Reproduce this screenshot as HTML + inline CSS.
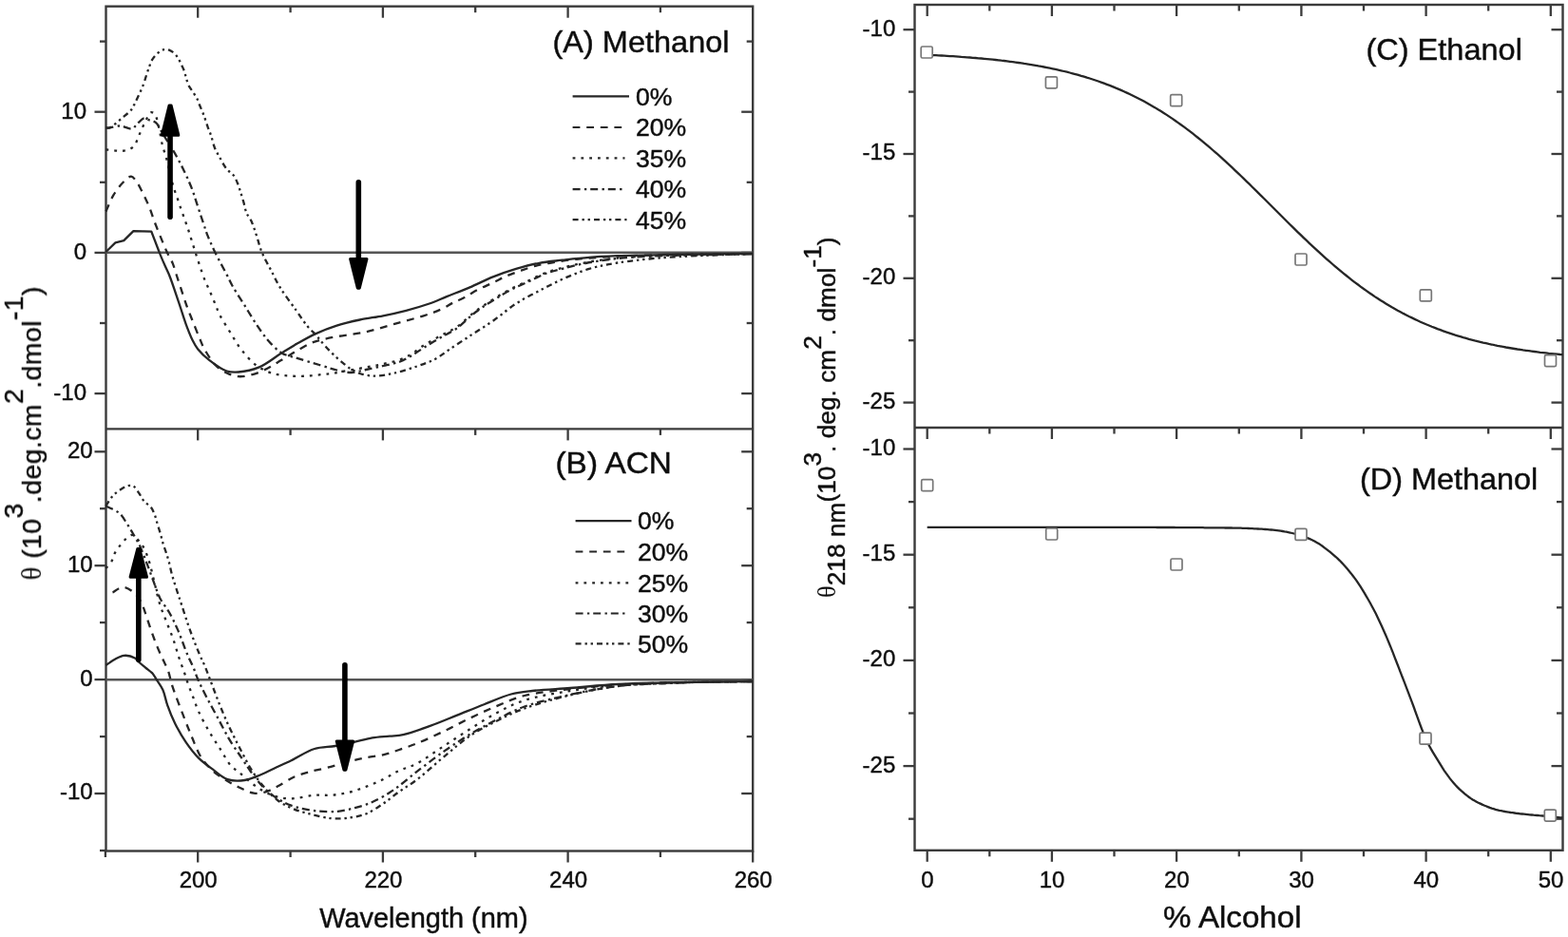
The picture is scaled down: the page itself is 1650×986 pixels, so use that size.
<!DOCTYPE html>
<html><head><meta charset="utf-8"><title>CD spectra figure</title>
<style>html,body{margin:0;padding:0;background:#fff;overflow:hidden}svg{display:block}text{fill:#111;stroke:#111;stroke-width:0.45px}</style>
</head><body>
<svg width="1650" height="986" viewBox="0 0 1650 986" font-family="'Liberation Sans', Arial, sans-serif" fill="#111"><defs><filter id="soft" x="0" y="0" width="1650" height="986" filterUnits="userSpaceOnUse"><feGaussianBlur stdDeviation="0.65"/></filter></defs><rect width="1650" height="986" fill="#fff"/><g filter="url(#soft)"><rect x="111.5" y="6.7" width="680.7" height="888.8" fill="none" stroke="#3a3a3a" stroke-width="2.4"/>
<line x1="111.5" y1="451.4" x2="792.2" y2="451.4" stroke="#3a3a3a" stroke-width="2.4" stroke-linecap="butt"/>
<rect x="962.5" y="5.0" width="682.0" height="889.8" fill="none" stroke="#3a3a3a" stroke-width="2.4"/>
<line x1="962.5" y1="450.0" x2="1644.5" y2="450.0" stroke="#3a3a3a" stroke-width="2.4" stroke-linecap="butt"/>
<line x1="110.9" y1="895.5" x2="110.9" y2="902.0" stroke="#3a3a3a" stroke-width="2.3" stroke-linecap="butt"/>
<line x1="208.2" y1="6.7" x2="208.2" y2="18.7" stroke="#3a3a3a" stroke-width="2.3" stroke-linecap="butt"/>
<line x1="208.2" y1="451.4" x2="208.2" y2="463.4" stroke="#3a3a3a" stroke-width="2.3" stroke-linecap="butt"/>
<line x1="208.2" y1="895.5" x2="208.2" y2="907.5" stroke="#3a3a3a" stroke-width="2.3" stroke-linecap="butt"/>
<line x1="305.6" y1="6.7" x2="305.6" y2="13.2" stroke="#3a3a3a" stroke-width="2.3" stroke-linecap="butt"/>
<line x1="305.6" y1="451.4" x2="305.6" y2="457.9" stroke="#3a3a3a" stroke-width="2.3" stroke-linecap="butt"/>
<line x1="305.6" y1="895.5" x2="305.6" y2="902.0" stroke="#3a3a3a" stroke-width="2.3" stroke-linecap="butt"/>
<line x1="402.9" y1="6.7" x2="402.9" y2="18.7" stroke="#3a3a3a" stroke-width="2.3" stroke-linecap="butt"/>
<line x1="402.9" y1="451.4" x2="402.9" y2="463.4" stroke="#3a3a3a" stroke-width="2.3" stroke-linecap="butt"/>
<line x1="402.9" y1="895.5" x2="402.9" y2="907.5" stroke="#3a3a3a" stroke-width="2.3" stroke-linecap="butt"/>
<line x1="500.2" y1="6.7" x2="500.2" y2="13.2" stroke="#3a3a3a" stroke-width="2.3" stroke-linecap="butt"/>
<line x1="500.2" y1="451.4" x2="500.2" y2="457.9" stroke="#3a3a3a" stroke-width="2.3" stroke-linecap="butt"/>
<line x1="500.2" y1="895.5" x2="500.2" y2="902.0" stroke="#3a3a3a" stroke-width="2.3" stroke-linecap="butt"/>
<line x1="597.6" y1="6.7" x2="597.6" y2="18.7" stroke="#3a3a3a" stroke-width="2.3" stroke-linecap="butt"/>
<line x1="597.6" y1="451.4" x2="597.6" y2="463.4" stroke="#3a3a3a" stroke-width="2.3" stroke-linecap="butt"/>
<line x1="597.6" y1="895.5" x2="597.6" y2="907.5" stroke="#3a3a3a" stroke-width="2.3" stroke-linecap="butt"/>
<line x1="694.9" y1="6.7" x2="694.9" y2="13.2" stroke="#3a3a3a" stroke-width="2.3" stroke-linecap="butt"/>
<line x1="694.9" y1="451.4" x2="694.9" y2="457.9" stroke="#3a3a3a" stroke-width="2.3" stroke-linecap="butt"/>
<line x1="694.9" y1="895.5" x2="694.9" y2="902.0" stroke="#3a3a3a" stroke-width="2.3" stroke-linecap="butt"/>
<line x1="792.2" y1="895.5" x2="792.2" y2="907.5" stroke="#3a3a3a" stroke-width="2.3" stroke-linecap="butt"/>
<line x1="105.0" y1="43.6" x2="111.5" y2="43.6" stroke="#3a3a3a" stroke-width="2.3" stroke-linecap="butt"/>
<line x1="792.2" y1="43.6" x2="785.7" y2="43.6" stroke="#3a3a3a" stroke-width="2.3" stroke-linecap="butt"/>
<line x1="99.5" y1="117.7" x2="111.5" y2="117.7" stroke="#3a3a3a" stroke-width="2.3" stroke-linecap="butt"/>
<line x1="792.2" y1="117.7" x2="780.2" y2="117.7" stroke="#3a3a3a" stroke-width="2.3" stroke-linecap="butt"/>
<line x1="105.0" y1="191.8" x2="111.5" y2="191.8" stroke="#3a3a3a" stroke-width="2.3" stroke-linecap="butt"/>
<line x1="792.2" y1="191.8" x2="785.7" y2="191.8" stroke="#3a3a3a" stroke-width="2.3" stroke-linecap="butt"/>
<line x1="99.5" y1="265.9" x2="111.5" y2="265.9" stroke="#3a3a3a" stroke-width="2.3" stroke-linecap="butt"/>
<line x1="792.2" y1="265.9" x2="780.2" y2="265.9" stroke="#3a3a3a" stroke-width="2.3" stroke-linecap="butt"/>
<line x1="105.0" y1="340.0" x2="111.5" y2="340.0" stroke="#3a3a3a" stroke-width="2.3" stroke-linecap="butt"/>
<line x1="792.2" y1="340.0" x2="785.7" y2="340.0" stroke="#3a3a3a" stroke-width="2.3" stroke-linecap="butt"/>
<line x1="99.5" y1="414.1" x2="111.5" y2="414.1" stroke="#3a3a3a" stroke-width="2.3" stroke-linecap="butt"/>
<line x1="792.2" y1="414.1" x2="780.2" y2="414.1" stroke="#3a3a3a" stroke-width="2.3" stroke-linecap="butt"/>
<line x1="99.5" y1="475.3" x2="111.5" y2="475.3" stroke="#3a3a3a" stroke-width="2.3" stroke-linecap="butt"/>
<line x1="792.2" y1="475.3" x2="780.2" y2="475.3" stroke="#3a3a3a" stroke-width="2.3" stroke-linecap="butt"/>
<line x1="105.0" y1="535.2" x2="111.5" y2="535.2" stroke="#3a3a3a" stroke-width="2.3" stroke-linecap="butt"/>
<line x1="792.2" y1="535.2" x2="785.7" y2="535.2" stroke="#3a3a3a" stroke-width="2.3" stroke-linecap="butt"/>
<line x1="99.5" y1="595.2" x2="111.5" y2="595.2" stroke="#3a3a3a" stroke-width="2.3" stroke-linecap="butt"/>
<line x1="792.2" y1="595.2" x2="780.2" y2="595.2" stroke="#3a3a3a" stroke-width="2.3" stroke-linecap="butt"/>
<line x1="105.0" y1="655.1" x2="111.5" y2="655.1" stroke="#3a3a3a" stroke-width="2.3" stroke-linecap="butt"/>
<line x1="792.2" y1="655.1" x2="785.7" y2="655.1" stroke="#3a3a3a" stroke-width="2.3" stroke-linecap="butt"/>
<line x1="99.5" y1="715.1" x2="111.5" y2="715.1" stroke="#3a3a3a" stroke-width="2.3" stroke-linecap="butt"/>
<line x1="792.2" y1="715.1" x2="780.2" y2="715.1" stroke="#3a3a3a" stroke-width="2.3" stroke-linecap="butt"/>
<line x1="105.0" y1="775.1" x2="111.5" y2="775.1" stroke="#3a3a3a" stroke-width="2.3" stroke-linecap="butt"/>
<line x1="792.2" y1="775.1" x2="785.7" y2="775.1" stroke="#3a3a3a" stroke-width="2.3" stroke-linecap="butt"/>
<line x1="99.5" y1="835.0" x2="111.5" y2="835.0" stroke="#3a3a3a" stroke-width="2.3" stroke-linecap="butt"/>
<line x1="792.2" y1="835.0" x2="780.2" y2="835.0" stroke="#3a3a3a" stroke-width="2.3" stroke-linecap="butt"/>
<line x1="105.0" y1="895.0" x2="111.5" y2="895.0" stroke="#3a3a3a" stroke-width="2.3" stroke-linecap="butt"/>
<line x1="975.7" y1="5.0" x2="975.7" y2="17.0" stroke="#3a3a3a" stroke-width="2.3" stroke-linecap="butt"/>
<line x1="975.7" y1="450.0" x2="975.7" y2="462.0" stroke="#3a3a3a" stroke-width="2.3" stroke-linecap="butt"/>
<line x1="975.7" y1="894.8" x2="975.7" y2="906.8" stroke="#3a3a3a" stroke-width="2.3" stroke-linecap="butt"/>
<line x1="1041.3" y1="5.0" x2="1041.3" y2="11.5" stroke="#3a3a3a" stroke-width="2.3" stroke-linecap="butt"/>
<line x1="1041.3" y1="450.0" x2="1041.3" y2="456.5" stroke="#3a3a3a" stroke-width="2.3" stroke-linecap="butt"/>
<line x1="1041.3" y1="894.8" x2="1041.3" y2="901.3" stroke="#3a3a3a" stroke-width="2.3" stroke-linecap="butt"/>
<line x1="1106.9" y1="5.0" x2="1106.9" y2="17.0" stroke="#3a3a3a" stroke-width="2.3" stroke-linecap="butt"/>
<line x1="1106.9" y1="450.0" x2="1106.9" y2="462.0" stroke="#3a3a3a" stroke-width="2.3" stroke-linecap="butt"/>
<line x1="1106.9" y1="894.8" x2="1106.9" y2="906.8" stroke="#3a3a3a" stroke-width="2.3" stroke-linecap="butt"/>
<line x1="1172.5" y1="5.0" x2="1172.5" y2="11.5" stroke="#3a3a3a" stroke-width="2.3" stroke-linecap="butt"/>
<line x1="1172.5" y1="450.0" x2="1172.5" y2="456.5" stroke="#3a3a3a" stroke-width="2.3" stroke-linecap="butt"/>
<line x1="1172.5" y1="894.8" x2="1172.5" y2="901.3" stroke="#3a3a3a" stroke-width="2.3" stroke-linecap="butt"/>
<line x1="1238.1" y1="5.0" x2="1238.1" y2="17.0" stroke="#3a3a3a" stroke-width="2.3" stroke-linecap="butt"/>
<line x1="1238.1" y1="450.0" x2="1238.1" y2="462.0" stroke="#3a3a3a" stroke-width="2.3" stroke-linecap="butt"/>
<line x1="1238.1" y1="894.8" x2="1238.1" y2="906.8" stroke="#3a3a3a" stroke-width="2.3" stroke-linecap="butt"/>
<line x1="1303.8" y1="5.0" x2="1303.8" y2="11.5" stroke="#3a3a3a" stroke-width="2.3" stroke-linecap="butt"/>
<line x1="1303.8" y1="450.0" x2="1303.8" y2="456.5" stroke="#3a3a3a" stroke-width="2.3" stroke-linecap="butt"/>
<line x1="1303.8" y1="894.8" x2="1303.8" y2="901.3" stroke="#3a3a3a" stroke-width="2.3" stroke-linecap="butt"/>
<line x1="1369.4" y1="5.0" x2="1369.4" y2="17.0" stroke="#3a3a3a" stroke-width="2.3" stroke-linecap="butt"/>
<line x1="1369.4" y1="450.0" x2="1369.4" y2="462.0" stroke="#3a3a3a" stroke-width="2.3" stroke-linecap="butt"/>
<line x1="1369.4" y1="894.8" x2="1369.4" y2="906.8" stroke="#3a3a3a" stroke-width="2.3" stroke-linecap="butt"/>
<line x1="1435.0" y1="5.0" x2="1435.0" y2="11.5" stroke="#3a3a3a" stroke-width="2.3" stroke-linecap="butt"/>
<line x1="1435.0" y1="450.0" x2="1435.0" y2="456.5" stroke="#3a3a3a" stroke-width="2.3" stroke-linecap="butt"/>
<line x1="1435.0" y1="894.8" x2="1435.0" y2="901.3" stroke="#3a3a3a" stroke-width="2.3" stroke-linecap="butt"/>
<line x1="1500.6" y1="5.0" x2="1500.6" y2="17.0" stroke="#3a3a3a" stroke-width="2.3" stroke-linecap="butt"/>
<line x1="1500.6" y1="450.0" x2="1500.6" y2="462.0" stroke="#3a3a3a" stroke-width="2.3" stroke-linecap="butt"/>
<line x1="1500.6" y1="894.8" x2="1500.6" y2="906.8" stroke="#3a3a3a" stroke-width="2.3" stroke-linecap="butt"/>
<line x1="1566.2" y1="5.0" x2="1566.2" y2="11.5" stroke="#3a3a3a" stroke-width="2.3" stroke-linecap="butt"/>
<line x1="1566.2" y1="450.0" x2="1566.2" y2="456.5" stroke="#3a3a3a" stroke-width="2.3" stroke-linecap="butt"/>
<line x1="1566.2" y1="894.8" x2="1566.2" y2="901.3" stroke="#3a3a3a" stroke-width="2.3" stroke-linecap="butt"/>
<line x1="1631.8" y1="5.0" x2="1631.8" y2="17.0" stroke="#3a3a3a" stroke-width="2.3" stroke-linecap="butt"/>
<line x1="1631.8" y1="450.0" x2="1631.8" y2="462.0" stroke="#3a3a3a" stroke-width="2.3" stroke-linecap="butt"/>
<line x1="1631.8" y1="894.8" x2="1631.8" y2="906.8" stroke="#3a3a3a" stroke-width="2.3" stroke-linecap="butt"/>
<line x1="950.5" y1="31.2" x2="962.5" y2="31.2" stroke="#3a3a3a" stroke-width="2.3" stroke-linecap="butt"/>
<line x1="1644.5" y1="31.2" x2="1632.5" y2="31.2" stroke="#3a3a3a" stroke-width="2.3" stroke-linecap="butt"/>
<line x1="956.0" y1="96.6" x2="962.5" y2="96.6" stroke="#3a3a3a" stroke-width="2.3" stroke-linecap="butt"/>
<line x1="1644.5" y1="96.6" x2="1638.0" y2="96.6" stroke="#3a3a3a" stroke-width="2.3" stroke-linecap="butt"/>
<line x1="950.5" y1="162.0" x2="962.5" y2="162.0" stroke="#3a3a3a" stroke-width="2.3" stroke-linecap="butt"/>
<line x1="1644.5" y1="162.0" x2="1632.5" y2="162.0" stroke="#3a3a3a" stroke-width="2.3" stroke-linecap="butt"/>
<line x1="956.0" y1="227.4" x2="962.5" y2="227.4" stroke="#3a3a3a" stroke-width="2.3" stroke-linecap="butt"/>
<line x1="1644.5" y1="227.4" x2="1638.0" y2="227.4" stroke="#3a3a3a" stroke-width="2.3" stroke-linecap="butt"/>
<line x1="950.5" y1="292.8" x2="962.5" y2="292.8" stroke="#3a3a3a" stroke-width="2.3" stroke-linecap="butt"/>
<line x1="1644.5" y1="292.8" x2="1632.5" y2="292.8" stroke="#3a3a3a" stroke-width="2.3" stroke-linecap="butt"/>
<line x1="956.0" y1="358.2" x2="962.5" y2="358.2" stroke="#3a3a3a" stroke-width="2.3" stroke-linecap="butt"/>
<line x1="1644.5" y1="358.2" x2="1638.0" y2="358.2" stroke="#3a3a3a" stroke-width="2.3" stroke-linecap="butt"/>
<line x1="950.5" y1="423.6" x2="962.5" y2="423.6" stroke="#3a3a3a" stroke-width="2.3" stroke-linecap="butt"/>
<line x1="1644.5" y1="423.6" x2="1632.5" y2="423.6" stroke="#3a3a3a" stroke-width="2.3" stroke-linecap="butt"/>
<line x1="950.5" y1="472.5" x2="962.5" y2="472.5" stroke="#3a3a3a" stroke-width="2.3" stroke-linecap="butt"/>
<line x1="1644.5" y1="472.5" x2="1632.5" y2="472.5" stroke="#3a3a3a" stroke-width="2.3" stroke-linecap="butt"/>
<line x1="956.0" y1="528.1" x2="962.5" y2="528.1" stroke="#3a3a3a" stroke-width="2.3" stroke-linecap="butt"/>
<line x1="1644.5" y1="528.1" x2="1638.0" y2="528.1" stroke="#3a3a3a" stroke-width="2.3" stroke-linecap="butt"/>
<line x1="950.5" y1="583.7" x2="962.5" y2="583.7" stroke="#3a3a3a" stroke-width="2.3" stroke-linecap="butt"/>
<line x1="1644.5" y1="583.7" x2="1632.5" y2="583.7" stroke="#3a3a3a" stroke-width="2.3" stroke-linecap="butt"/>
<line x1="956.0" y1="639.3" x2="962.5" y2="639.3" stroke="#3a3a3a" stroke-width="2.3" stroke-linecap="butt"/>
<line x1="1644.5" y1="639.3" x2="1638.0" y2="639.3" stroke="#3a3a3a" stroke-width="2.3" stroke-linecap="butt"/>
<line x1="950.5" y1="694.9" x2="962.5" y2="694.9" stroke="#3a3a3a" stroke-width="2.3" stroke-linecap="butt"/>
<line x1="1644.5" y1="694.9" x2="1632.5" y2="694.9" stroke="#3a3a3a" stroke-width="2.3" stroke-linecap="butt"/>
<line x1="956.0" y1="750.5" x2="962.5" y2="750.5" stroke="#3a3a3a" stroke-width="2.3" stroke-linecap="butt"/>
<line x1="1644.5" y1="750.5" x2="1638.0" y2="750.5" stroke="#3a3a3a" stroke-width="2.3" stroke-linecap="butt"/>
<line x1="950.5" y1="806.1" x2="962.5" y2="806.1" stroke="#3a3a3a" stroke-width="2.3" stroke-linecap="butt"/>
<line x1="1644.5" y1="806.1" x2="1632.5" y2="806.1" stroke="#3a3a3a" stroke-width="2.3" stroke-linecap="butt"/>
<line x1="956.0" y1="861.7" x2="962.5" y2="861.7" stroke="#3a3a3a" stroke-width="2.3" stroke-linecap="butt"/>
<line x1="1644.5" y1="861.7" x2="1638.0" y2="861.7" stroke="#3a3a3a" stroke-width="2.3" stroke-linecap="butt"/>
<line x1="111.5" y1="265.7" x2="792.2" y2="265.7" stroke="#555" stroke-width="2.6" stroke-linecap="butt"/>
<line x1="111.5" y1="715.3" x2="792.2" y2="715.3" stroke="#555" stroke-width="2.6" stroke-linecap="butt"/>
<path d="M111.5,265.0 L121.4,255.4 L130.3,253.1 L140.4,243.1 L159.3,243.7 L167.5,265.0 L167.5,265.0 C167.6,265.3 171.8,275.5 173.8,280.0 C175.4,283.7 176.6,285.8 178.3,290.0 C181.1,296.9 184.9,308.8 188.0,317.9 C191.0,326.6 193.8,336.1 196.5,343.4 C198.6,349.0 200.4,353.7 202.6,358.0 C204.4,361.6 205.8,364.3 208.3,367.5 C211.4,371.4 215.7,375.5 220.4,379.1 C225.7,383.2 233.0,388.6 238.7,390.5 C243.0,391.9 246.3,391.8 250.9,391.5 C257.2,391.0 265.6,389.4 272.8,386.4 C280.7,383.1 288.9,376.1 295.9,371.8 C301.7,368.2 306.1,365.4 311.8,362.1 C318.2,358.5 325.3,354.3 332.4,351.1 C339.5,347.8 346.8,345.0 354.4,342.6 C362.2,340.1 370.6,338.2 378.7,336.5 C386.8,334.8 395.0,333.9 403.1,332.3 C411.2,330.7 419.3,328.9 427.4,326.8 C435.6,324.7 444.3,322.1 451.8,319.5 C458.4,317.2 463.5,314.7 470.0,312.1 C477.5,309.1 486.3,305.8 494.4,302.4 C502.5,298.9 510.5,294.7 518.7,291.4 C526.8,288.2 534.9,285.3 543.1,282.9 C551.2,280.5 559.2,278.3 567.4,276.8 C575.5,275.3 583.4,274.7 591.8,273.7 C600.9,272.7 610.4,271.6 620.0,270.9 C629.8,270.1 638.7,269.7 650.0,269.2 C664.5,268.6 683.3,268.3 700.0,268.0 C716.7,267.7 734.1,267.5 750.0,267.3 C764.6,267.1 791.1,267.0 792.0,267.0" fill="none" stroke="#262626" stroke-width="2.3" stroke-linejoin="round"/>
<path d="M111.5,222.5 C111.7,222.2 116.2,210.8 119.2,205.7 C122.1,200.8 125.7,195.8 129.2,192.3 C132.1,189.4 135.5,185.4 138.1,185.6 C140.3,185.8 141.9,188.8 143.7,191.2 C146.1,194.4 148.2,199.2 150.4,203.5 C152.7,208.1 155.1,213.0 157.1,218.0 C159.2,223.1 160.7,228.3 162.7,233.6 C164.8,239.1 167.2,245.0 169.4,250.4 C171.5,255.6 173.6,260.8 175.8,265.5 C177.7,269.7 180.1,273.1 181.7,277.1 C183.3,281.0 184.2,284.7 185.6,289.0 C187.3,294.2 189.4,300.5 191.2,306.1 C193.0,311.5 194.6,316.8 196.5,322.0 C198.3,327.0 200.1,331.3 202.2,336.5 C204.6,342.4 207.6,350.2 209.9,355.6 C211.6,359.6 212.3,362.2 214.4,366.0 C217.3,371.3 222.0,379.4 226.5,384.0 C230.2,387.8 234.5,390.4 238.7,392.5 C242.6,394.4 246.5,395.9 250.9,396.2 C255.8,396.6 261.6,395.2 266.7,393.8 C271.8,392.4 276.5,390.1 281.3,387.7 C286.3,385.2 290.9,382.1 295.9,379.1 C301.1,376.0 306.5,372.5 311.8,369.4 C317.0,366.4 322.9,362.9 327.6,360.9 C331.1,359.4 333.6,358.8 337.3,357.8 C342.2,356.5 347.9,355.4 354.4,354.2 C363.1,352.6 374.7,351.5 384.8,349.3 C395.0,347.1 405.1,343.6 415.2,340.8 C425.4,338.0 436.9,335.1 445.7,332.3 C452.6,330.1 458.4,328.1 463.9,325.6 C468.8,323.4 473.0,320.4 477.3,318.3 C481.1,316.4 484.4,315.3 488.3,313.3 C492.9,310.9 497.9,307.4 502.9,304.8 C508.0,302.1 513.7,299.9 518.7,297.5 C523.4,295.3 527.5,292.8 532.1,290.8 C536.8,288.7 541.8,287.0 546.7,285.3 C551.6,283.6 556.1,281.8 561.3,280.4 C567.1,278.8 573.6,277.6 580.0,276.5 C586.5,275.3 593.3,274.3 600.0,273.5 C606.7,272.7 612.7,272.2 620.0,271.6 C629.0,270.9 638.7,270.1 650.0,269.6 C664.5,268.9 683.3,268.6 700.0,268.2 C716.7,267.9 734.1,267.7 750.0,267.5 C764.6,267.3 791.1,267.0 792.0,267.0" fill="none" stroke="#262626" stroke-width="2.3" stroke-linejoin="round" stroke-dasharray="7.8 6.8"/>
<path d="M111.5,157.5 C111.6,157.5 114.3,157.6 116.1,157.8 C118.6,158.0 122.2,158.8 125.2,158.8 C128.3,158.8 131.6,158.8 134.4,157.8 C137.0,156.9 139.7,155.3 141.5,153.2 C143.5,150.9 144.2,147.1 145.5,144.1 C146.9,141.1 148.2,138.1 149.6,135.0 C151.0,131.9 152.4,128.4 154.0,125.5 C155.5,122.9 156.9,118.9 158.7,118.3 C160.0,117.9 161.7,118.7 162.8,119.8 C164.2,121.2 164.7,124.1 165.5,127.0 C166.7,131.1 167.8,137.2 168.8,142.0 C169.7,146.4 170.3,150.8 171.3,154.6 C172.2,157.9 173.3,160.4 174.3,163.7 C175.4,167.5 176.5,171.8 177.5,176.0 C178.5,180.3 179.4,184.9 180.4,189.0 C181.3,192.6 182.3,196.0 183.3,199.2 C184.3,202.2 185.4,204.9 186.4,207.8 C187.4,210.8 188.4,213.9 189.4,216.9 C190.4,219.8 191.5,222.7 192.5,225.6 C193.5,228.5 194.5,231.3 195.5,234.2 C196.5,237.1 197.5,239.7 198.5,242.8 C199.6,246.3 200.8,250.2 202.0,254.0 C203.2,257.8 204.3,261.5 205.6,265.5 C207.0,269.8 208.4,274.3 210.0,279.0 C211.8,284.4 214.0,291.2 216.0,296.0 C217.5,299.7 218.8,301.9 220.4,305.5 C222.4,310.0 224.9,316.3 226.9,321.0 C228.5,324.9 229.4,327.7 231.4,331.7 C234.1,337.1 238.7,343.9 242.4,349.9 C246.0,355.7 249.0,361.5 253.3,367.0 C257.9,372.9 263.2,379.6 269.1,384.0 C274.6,388.1 281.1,391.2 287.4,393.1 C293.4,394.9 299.6,395.2 305.7,395.6 C311.8,396.0 318.0,395.9 323.9,395.6 C329.4,395.3 335.2,394.4 339.8,394.0 C343.4,393.6 346.2,393.6 349.5,393.1 C352.9,392.6 355.7,391.8 360.0,391.0 C366.5,389.8 377.4,387.9 385.0,386.5 C391.5,385.3 397.0,384.3 403.0,383.0 C409.0,381.7 415.7,380.5 421.0,378.5 C425.5,376.8 429.1,374.8 433.0,372.5 C437.1,370.0 440.5,366.9 445.0,364.0 C450.5,360.4 457.9,356.4 464.0,353.0 C469.5,349.9 474.5,348.2 480.0,344.5 C486.6,340.1 493.7,332.6 500.4,327.5 C506.5,322.9 512.5,319.1 518.7,315.2 C524.7,311.4 530.8,307.6 537.0,304.3 C543.0,301.1 549.1,298.6 555.2,295.8 C561.3,292.9 567.3,289.6 573.5,287.2 C579.5,284.9 585.2,283.5 591.8,281.8 C599.3,279.8 607.3,277.9 616.1,276.3 C626.4,274.4 637.6,272.7 650.0,271.5 C665.0,270.1 683.3,269.6 700.0,269.0 C716.7,268.4 734.1,268.1 750.0,267.8 C764.6,267.5 791.1,267.0 792.0,267.0" fill="none" stroke="#262626" stroke-width="2.3" stroke-linejoin="round" stroke-dasharray="2.8 6.0"/>
<path d="M111.5,134.5 C111.6,134.5 113.6,134.6 115.1,134.5 C117.8,134.3 122.4,132.4 126.3,132.5 C130.5,132.6 136.4,136.4 139.4,135.5 C141.4,134.9 141.9,132.9 143.5,131.4 C145.7,129.3 149.2,124.7 151.6,124.3 C153.1,124.0 154.1,125.3 155.7,125.9 C157.9,126.8 161.4,126.9 163.8,128.9 C167.0,131.5 169.0,137.3 172.0,142.0 C175.5,147.5 179.7,153.9 183.3,160.1 C186.9,166.4 190.4,173.0 193.5,179.4 C196.5,185.5 199.2,191.6 201.6,197.7 C203.9,203.7 205.7,209.8 207.7,215.9 C209.7,222.0 211.9,228.6 213.8,234.2 C215.4,239.0 216.5,242.7 218.3,247.4 C220.5,253.0 223.2,259.1 226.3,265.5 C230.0,273.1 235.7,283.3 239.1,289.9 C241.4,294.4 242.4,297.0 244.8,301.2 C248.0,306.9 252.9,314.2 257.0,320.7 C261.0,327.2 265.0,334.0 269.1,340.2 C273.1,346.1 276.8,352.0 281.3,357.2 C285.7,362.3 290.5,367.9 295.9,371.2 C300.8,374.2 305.9,374.8 311.8,376.7 C319.0,379.0 328.6,381.7 336.1,384.0 C342.6,386.0 348.5,388.1 354.4,389.5 C359.8,390.7 364.9,392.1 370.0,392.0 C375.1,391.9 379.8,390.1 385.0,389.0 C390.7,387.8 397.0,386.4 403.0,385.0 C409.0,383.6 415.7,382.5 421.0,380.5 C425.7,378.7 429.4,376.4 433.5,374.0 C437.7,371.6 441.2,368.8 445.7,366.0 C451.2,362.6 458.1,358.4 464.0,355.0 C469.5,351.8 474.5,349.8 480.0,346.0 C486.6,341.4 493.6,333.6 500.4,328.5 C506.5,323.8 512.5,320.1 518.7,316.2 C524.7,312.4 530.8,308.6 537.0,305.3 C543.0,302.1 549.1,299.6 555.2,296.8 C561.3,293.9 567.3,290.6 573.5,288.2 C579.5,285.9 585.2,284.5 591.8,282.8 C599.3,280.8 607.3,278.7 616.1,277.0 C626.4,275.0 637.6,273.3 650.0,272.0 C665.0,270.4 683.3,269.7 700.0,269.0 C716.7,268.3 734.1,268.3 750.0,268.0 C764.6,267.7 791.1,267.0 792.0,267.0" fill="none" stroke="#262626" stroke-width="2.3" stroke-linejoin="round" stroke-dasharray="8 4.3 2.4 3.9"/>
<path d="M111.5,134.5 C111.6,134.5 113.6,135.0 115.1,134.5 C118.3,133.4 124.3,127.7 128.3,124.3 C132.0,121.2 136.1,118.1 138.4,115.2 C140.0,113.1 140.6,111.4 141.7,109.2 C143.0,106.7 144.2,104.0 145.6,101.0 C147.2,97.5 149.2,93.5 150.6,89.7 C152.0,86.1 153.0,82.4 154.1,79.0 C155.1,76.0 156.0,73.2 157.0,70.5 C157.9,68.0 158.5,65.6 159.8,63.4 C161.1,61.1 162.8,58.8 164.8,57.0 C167.0,55.0 170.0,52.6 172.6,52.1 C174.8,51.7 176.9,52.1 179.0,53.1 C181.5,54.2 184.1,56.7 186.1,59.2 C188.2,61.8 189.6,65.6 191.0,68.4 C192.1,70.7 193.1,72.5 193.9,74.8 C194.8,77.2 195.2,80.0 196.0,82.6 C196.8,85.2 197.6,88.0 198.8,90.4 C200.0,92.7 201.6,94.5 203.1,96.8 C204.7,99.4 206.9,102.8 208.1,105.3 C209.0,107.2 209.2,108.5 210.0,110.5 C211.2,113.5 213.1,117.5 214.5,121.3 C216.0,125.3 217.3,130.0 218.7,133.8 C219.9,137.0 221.0,139.4 222.1,142.6 C223.4,146.5 224.4,151.8 226.0,155.7 C227.4,159.2 229.2,162.0 231.0,165.2 C232.9,168.7 235.0,173.1 237.0,175.8 C238.4,177.7 239.6,178.9 241.1,180.4 C242.6,182.0 244.7,183.0 246.1,184.9 C247.8,187.2 249.1,190.6 250.3,193.6 C251.5,196.7 252.4,199.9 253.4,203.1 C254.4,206.3 255.4,209.5 256.4,212.9 C257.4,216.5 258.0,220.7 259.4,224.0 C260.7,227.1 262.7,229.0 264.3,232.3 C266.3,236.6 268.2,242.6 270.0,248.0 C271.9,253.7 273.2,259.7 275.6,265.5 C278.1,271.7 281.8,277.9 285.0,284.0 C288.2,290.2 290.8,296.0 294.7,302.4 C299.4,310.1 306.6,319.4 311.8,326.8 C316.2,333.0 320.0,339.2 323.9,343.8 C326.9,347.3 330.1,349.7 332.5,352.4 C334.4,354.5 335.3,356.1 337.3,358.4 C340.2,361.8 344.4,366.7 348.3,370.6 C352.1,374.5 356.5,378.4 360.4,381.6 C363.8,384.4 366.8,386.9 370.2,388.9 C373.4,390.8 376.3,392.4 380.0,393.5 C384.5,394.8 390.2,395.7 395.7,395.6 C401.9,395.5 408.4,394.1 415.2,392.5 C422.9,390.7 432.1,387.8 439.6,385.2 C446.2,382.9 452.2,380.9 457.8,377.9 C463.1,375.1 467.0,371.7 472.4,368.1 C479.0,363.7 486.9,358.4 494.4,353.5 C502.3,348.3 510.7,343.3 518.7,337.7 C526.9,332.0 534.8,324.8 543.1,319.4 C551.0,314.3 559.2,310.3 567.4,306.0 C575.5,301.8 583.3,297.6 591.8,293.8 C600.8,289.8 610.3,285.8 620.0,282.9 C629.7,280.0 638.7,278.3 650.0,276.5 C664.5,274.2 683.3,272.3 700.0,271.0 C716.6,269.7 734.1,269.2 750.0,268.5 C764.6,267.9 791.1,267.0 792.0,267.0" fill="none" stroke="#262626" stroke-width="2.3" stroke-linejoin="round" stroke-dasharray="6 3.9 2.4 3.7 2.4 4"/>
<path d="M111.5,700.0 C111.7,699.9 117.4,695.6 120.6,693.9 C123.8,692.2 127.0,690.1 130.5,689.8 C134.1,689.5 139.2,690.8 142.0,692.4 C144.1,693.6 144.8,695.4 146.5,697.0 C148.6,698.9 151.3,701.1 153.6,703.0 C155.8,704.8 158.1,706.1 160.0,708.1 C161.9,710.2 163.2,712.7 164.9,715.4 C166.9,718.6 169.6,722.0 171.4,726.0 C173.5,730.7 174.2,736.6 176.2,742.2 C178.4,748.5 181.2,755.3 184.4,761.7 C187.7,768.3 191.6,775.1 195.7,781.2 C199.7,787.0 203.8,792.5 208.7,797.4 C213.6,802.3 219.6,806.5 224.9,810.4 C229.8,814.0 234.1,818.3 239.5,820.1 C244.9,821.9 252.0,821.7 257.4,821.0 C262.1,820.4 265.8,818.7 270.4,816.9 C276.0,814.8 282.3,811.5 288.3,808.7 C294.3,805.9 300.0,803.3 306.5,800.2 C314.1,796.5 322.8,790.5 330.9,788.0 C338.2,785.7 345.6,786.2 352.8,785.0 C359.8,783.8 366.8,782.2 373.5,780.7 C379.8,779.3 385.7,777.4 391.8,776.4 C397.8,775.4 404.3,775.2 410.0,774.6 C415.0,774.1 418.7,774.4 424.2,773.2 C432.1,771.5 443.2,767.3 452.6,763.9 C462.1,760.5 471.5,756.4 481.0,752.6 C490.5,748.8 499.9,744.9 509.4,741.2 C518.8,737.5 528.8,732.9 537.8,730.5 C545.5,728.5 551.5,728.0 560.0,727.0 C571.4,725.7 585.9,725.1 600.0,724.0 C615.7,722.8 633.3,720.9 650.0,720.0 C666.7,719.1 683.3,718.9 700.0,718.5 C716.7,718.1 734.1,717.8 750.0,717.5 C764.6,717.3 791.1,717.0 792.0,717.0" fill="none" stroke="#262626" stroke-width="2.3" stroke-linejoin="round"/>
<path d="M118.5,623.4 C118.5,623.4 118.8,623.3 119.1,623.1 C120.5,622.4 126.1,617.7 129.8,617.8 C133.8,617.9 138.7,621.6 142.0,624.7 C145.3,627.7 147.5,631.9 149.6,636.0 C151.7,640.3 152.8,645.2 154.5,650.0 C156.3,655.2 158.1,660.8 160.0,666.0 C161.8,671.1 163.7,676.2 165.6,680.9 C167.4,685.2 169.1,688.9 171.0,693.0 C172.9,697.3 175.3,701.4 177.0,706.0 C178.7,710.8 179.2,715.2 181.1,721.1 C183.8,729.6 188.8,742.3 192.5,751.9 C195.8,760.5 198.9,768.5 202.2,776.3 C205.3,783.6 207.9,791.3 211.9,797.4 C215.6,803.0 220.3,807.9 224.9,812.0 C229.0,815.7 233.5,818.3 237.9,821.0 C242.2,823.7 246.3,826.0 250.9,828.2 C255.9,830.6 261.9,834.0 267.1,834.7 C271.6,835.3 276.0,834.3 280.1,833.1 C284.3,831.9 287.7,829.8 292.0,827.6 C297.5,824.8 304.3,819.8 310.2,817.2 C315.2,815.0 319.6,813.9 324.8,812.4 C330.5,810.8 336.5,809.8 343.0,808.1 C350.6,806.2 359.8,803.3 367.4,801.4 C373.9,799.7 379.6,798.3 385.7,797.1 C391.8,795.9 398.1,795.5 403.9,794.1 C409.5,792.8 414.5,790.9 420.0,789.0 C425.9,787.0 431.7,785.1 438.4,782.4 C446.9,779.0 457.4,774.1 466.8,769.6 C476.3,765.1 485.7,759.9 495.2,755.4 C504.6,750.9 514.1,746.5 523.6,742.6 C533.0,738.7 541.1,734.8 552.0,732.0 C565.8,728.5 583.8,726.9 600.0,725.0 C616.5,723.1 633.3,721.6 650.0,720.5 C666.7,719.4 683.3,719.0 700.0,718.5 C716.7,718.0 734.1,717.8 750.0,717.5 C764.6,717.3 791.1,717.0 792.0,717.0" fill="none" stroke="#262626" stroke-width="2.3" stroke-linejoin="round" stroke-dasharray="7.8 6.8"/>
<path d="M111.5,598.0 C111.6,597.8 116.1,593.0 117.6,590.4 C118.9,588.1 119.0,585.7 120.2,583.2 C121.7,580.3 124.1,576.9 126.3,574.1 C128.3,571.5 130.6,568.7 132.8,566.8 C134.6,565.2 136.8,563.2 138.4,563.0 C139.5,562.8 140.5,563.3 141.5,564.0 C143.0,565.0 144.5,567.2 146.0,569.0 C147.6,570.9 149.2,572.8 150.6,575.1 C152.2,577.8 153.5,581.1 154.7,584.2 C155.9,587.2 156.6,589.7 157.7,593.4 C159.3,599.1 161.2,607.8 163.0,615.0 C164.8,622.3 166.3,629.9 168.5,636.8 C170.6,643.3 173.2,649.1 175.6,655.3 C178.0,661.5 180.6,667.6 182.7,673.8 C184.8,679.9 186.4,686.3 188.4,692.2 C190.2,697.6 192.4,703.3 194.0,707.8 C195.2,711.3 195.8,713.5 197.0,717.0 C198.6,721.6 201.0,727.8 203.0,733.0 C204.9,738.1 206.3,742.6 208.7,748.0 C211.7,754.7 216.2,763.0 220.1,769.8 C223.8,776.1 227.6,781.7 231.4,787.7 C235.2,793.6 238.8,800.9 242.8,805.5 C245.9,809.0 248.8,810.5 252.5,813.6 C257.5,817.7 264.0,824.0 270.0,828.0 C275.5,831.7 281.1,834.9 287.0,837.0 C292.8,839.0 298.7,840.3 305.3,840.4 C313.1,840.6 323.1,837.3 330.9,836.7 C337.5,836.2 343.0,837.2 349.1,836.7 C355.2,836.2 361.4,835.2 367.4,833.7 C373.6,832.2 379.7,829.9 385.7,827.6 C391.8,825.3 398.1,822.5 403.9,819.7 C409.5,817.0 414.4,813.6 420.0,811.0 C425.9,808.3 431.8,807.1 438.4,803.7 C447.0,799.2 457.3,791.4 466.8,785.2 C476.3,779.1 485.7,772.7 495.2,766.8 C504.6,760.9 514.0,754.7 523.6,749.7 C532.9,744.8 541.1,740.4 552.0,736.9 C565.7,732.5 583.8,729.6 600.0,727.0 C616.4,724.3 633.3,722.4 650.0,721.0 C666.6,719.6 683.3,719.1 700.0,718.5 C716.7,717.9 734.1,717.8 750.0,717.5 C764.6,717.3 791.1,717.0 792.0,717.0" fill="none" stroke="#262626" stroke-width="2.3" stroke-linejoin="round" stroke-dasharray="2.8 6.0"/>
<path d="M111.5,532.5 C111.6,532.6 115.8,534.4 118.1,535.6 C120.7,537.0 123.9,538.3 126.3,540.6 C129.1,543.2 131.3,547.6 133.4,550.8 C135.3,553.6 136.8,556.3 138.4,558.9 C139.9,561.3 141.1,563.6 142.5,566.0 C143.8,568.4 145.1,570.2 146.5,573.1 C148.7,577.6 151.2,584.3 153.6,590.4 C156.2,597.0 158.8,604.6 161.4,611.3 C163.8,617.6 165.6,624.0 168.5,629.7 C171.3,635.2 175.4,639.6 178.4,645.0 C181.5,650.5 184.1,656.0 186.9,662.4 C190.3,670.1 193.8,680.6 196.9,688.0 C199.3,693.8 201.8,698.4 203.8,703.2 C205.6,707.4 206.5,710.9 208.4,715.2 C210.7,720.5 213.7,726.5 216.8,732.5 C220.2,739.2 224.3,746.3 228.2,753.6 C232.4,761.4 236.7,770.3 241.2,777.9 C245.4,784.9 250.2,791.4 254.2,797.4 C257.7,802.6 260.3,807.1 263.9,812.0 C267.8,817.3 272.5,823.7 276.9,828.2 C280.6,832.1 283.9,834.9 288.3,837.9 C293.5,841.5 299.8,845.2 306.5,847.7 C313.9,850.4 322.7,852.1 330.9,853.1 C339.0,854.1 347.7,854.4 355.2,853.8 C361.8,853.2 367.4,851.7 373.5,850.1 C379.7,848.5 385.8,846.6 391.8,844.0 C398.0,841.3 404.9,837.2 410.0,834.0 C413.9,831.6 416.2,829.8 420.0,827.0 C425.3,823.0 431.6,817.5 438.4,812.2 C446.8,805.7 457.2,797.6 466.8,790.9 C476.2,784.4 485.6,778.1 495.2,772.4 C504.6,766.8 514.1,761.7 523.6,756.8 C533.0,752.0 541.1,747.4 552.0,743.5 C565.7,738.5 583.8,734.6 600.0,731.0 C616.4,727.4 633.3,724.0 650.0,722.0 C666.6,720.0 683.3,719.8 700.0,719.0 C716.7,718.3 734.1,717.8 750.0,717.5 C764.6,717.2 791.1,717.0 792.0,717.0" fill="none" stroke="#262626" stroke-width="2.3" stroke-linejoin="round" stroke-dasharray="8 4.3 2.4 3.9"/>
<path d="M111.5,532.5 C111.6,532.3 115.6,525.2 118.1,522.4 C120.3,519.9 122.6,518.1 125.2,516.3 C128.0,514.4 131.6,511.8 134.4,511.2 C136.6,510.7 138.7,510.7 140.5,511.7 C142.8,512.9 144.6,516.7 146.5,519.3 C148.3,521.9 149.5,525.1 151.6,527.5 C153.6,529.8 156.8,531.1 158.7,533.5 C160.6,535.9 161.6,538.8 162.8,541.7 C164.0,544.8 164.8,548.4 165.8,551.8 C166.8,555.2 167.9,558.4 168.9,561.9 C169.9,565.5 170.8,569.5 171.9,573.0 C172.9,576.2 174.0,578.9 175.0,582.0 C176.0,585.2 177.0,588.4 178.0,592.0 C179.1,596.3 180.0,601.3 181.3,606.0 C182.7,610.9 184.4,615.9 186.0,621.0 C187.7,626.2 189.3,630.9 191.2,636.8 C193.7,644.3 196.6,653.9 199.7,662.4 C202.8,671.0 206.8,681.1 209.7,688.0 C211.7,692.8 213.4,695.7 215.2,700.0 C217.2,704.7 218.8,709.3 221.0,715.0 C224.0,722.7 227.9,733.6 231.4,742.2 C234.6,750.1 237.8,757.7 241.2,764.9 C244.4,771.7 247.4,777.6 250.9,784.4 C254.9,792.1 259.4,801.5 263.9,808.8 C267.8,815.2 271.4,820.6 276.0,826.0 C280.7,831.6 286.4,837.7 292.0,842.0 C297.1,845.9 302.5,848.6 308.0,851.0 C313.4,853.3 318.6,854.6 324.8,856.2 C332.1,858.1 341.5,860.5 349.1,861.1 C355.6,861.6 361.3,861.3 367.4,860.5 C373.5,859.7 379.8,858.6 385.7,856.2 C392.0,853.6 398.1,849.1 403.9,845.2 C409.5,841.4 414.4,837.1 420.0,833.1 C425.9,828.9 431.8,825.7 438.4,820.7 C447.0,814.2 457.3,804.4 466.8,796.6 C476.2,788.8 485.4,780.4 495.2,773.9 C504.4,767.7 514.0,763.0 523.6,758.2 C533.0,753.5 541.1,749.5 552.0,745.5 C565.8,740.4 583.7,735.3 600.0,731.4 C616.4,727.5 633.3,724.1 650.0,722.0 C666.6,719.9 683.3,719.8 700.0,719.0 C716.7,718.3 734.1,717.8 750.0,717.5 C764.6,717.2 791.1,717.0 792.0,717.0" fill="none" stroke="#262626" stroke-width="2.3" stroke-linejoin="round" stroke-dasharray="6 3.9 2.4 3.7 2.4 4"/>
<path d="M975.7,57.8 L978.7,57.9 L981.7,58.1 L984.7,58.2 L987.7,58.4 L990.7,58.5 L993.7,58.7 L996.7,58.9 L999.7,59.1 L1002.7,59.2 L1005.7,59.4 L1008.7,59.6 L1011.7,59.9 L1014.7,60.1 L1017.7,60.3 L1020.7,60.5 L1023.7,60.8 L1026.7,61.0 L1029.7,61.3 L1032.7,61.5 L1035.7,61.8 L1038.7,62.1 L1041.7,62.4 L1044.7,62.7 L1047.7,63.0 L1050.7,63.3 L1053.7,63.7 L1056.7,64.0 L1059.7,64.4 L1062.7,64.8 L1065.7,65.2 L1068.7,65.6 L1071.7,66.0 L1074.7,66.4 L1077.7,66.9 L1080.7,67.3 L1083.7,67.8 L1086.7,68.3 L1089.7,68.8 L1092.7,69.4 L1095.7,69.9 L1098.7,70.5 L1101.7,71.1 L1104.7,71.7 L1107.7,72.3 L1110.7,72.9 L1113.7,73.6 L1116.7,74.3 L1119.7,75.0 L1122.7,75.7 L1125.7,76.5 L1128.7,77.3 L1131.7,78.1 L1134.7,78.9 L1137.7,79.8 L1140.7,80.6 L1143.7,81.6 L1146.7,82.5 L1149.7,83.5 L1152.7,84.5 L1155.7,85.5 L1158.7,86.6 L1161.7,87.7 L1164.7,88.8 L1167.7,89.9 L1170.7,91.1 L1173.7,92.4 L1176.7,93.6 L1179.7,94.9 L1182.7,96.2 L1185.7,97.6 L1188.7,99.0 L1191.7,100.5 L1194.7,102.0 L1197.7,103.5 L1200.7,105.0 L1203.7,106.6 L1206.7,108.3 L1209.7,110.0 L1212.7,111.7 L1215.7,113.4 L1218.7,115.3 L1221.7,117.1 L1224.7,119.0 L1227.7,120.9 L1230.7,122.9 L1233.7,124.9 L1236.7,127.0 L1239.7,129.1 L1242.7,131.2 L1245.7,133.4 L1248.7,135.6 L1251.7,137.9 L1254.7,140.2 L1257.7,142.6 L1260.7,145.0 L1263.7,147.4 L1266.7,149.9 L1269.7,152.4 L1272.7,154.9 L1275.7,157.5 L1278.7,160.1 L1281.7,162.7 L1284.7,165.4 L1287.7,168.1 L1290.7,170.9 L1293.7,173.6 L1296.7,176.4 L1299.7,179.3 L1302.7,182.1 L1305.7,185.0 L1308.7,187.9 L1311.7,190.8 L1314.7,193.7 L1317.7,196.7 L1320.7,199.6 L1323.7,202.6 L1326.7,205.6 L1329.7,208.5 L1332.7,211.5 L1335.7,214.5 L1338.7,217.5 L1341.7,220.5 L1344.7,223.5 L1347.7,226.5 L1350.7,229.5 L1353.7,232.5 L1356.7,235.5 L1359.7,238.4 L1362.7,241.4 L1365.7,244.3 L1368.7,247.2 L1371.7,250.1 L1374.7,252.9 L1377.7,255.8 L1380.7,258.6 L1383.7,261.4 L1386.7,264.2 L1389.7,266.9 L1392.7,269.6 L1395.7,272.3 L1398.7,274.9 L1401.7,277.5 L1404.7,280.1 L1407.7,282.7 L1410.7,285.2 L1413.7,287.6 L1416.7,290.0 L1419.7,292.4 L1422.7,294.8 L1425.7,297.1 L1428.7,299.3 L1431.7,301.6 L1434.7,303.8 L1437.7,305.9 L1440.7,308.0 L1443.7,310.0 L1446.7,312.1 L1449.7,314.0 L1452.7,316.0 L1455.7,317.8 L1458.7,319.7 L1461.7,321.5 L1464.7,323.3 L1467.7,325.0 L1470.7,326.7 L1473.7,328.3 L1476.7,329.9 L1479.7,331.4 L1482.7,333.0 L1485.7,334.4 L1488.7,335.9 L1491.7,337.3 L1494.7,338.7 L1497.7,340.0 L1500.7,341.3 L1503.7,342.5 L1506.7,343.8 L1509.7,344.9 L1512.7,346.1 L1515.7,347.2 L1518.7,348.3 L1521.7,349.4 L1524.7,350.4 L1527.7,351.4 L1530.7,352.4 L1533.7,353.3 L1536.7,354.2 L1539.7,355.1 L1542.7,355.9 L1545.7,356.8 L1548.7,357.6 L1551.7,358.4 L1554.7,359.1 L1557.7,359.8 L1560.7,360.6 L1563.7,361.2 L1566.7,361.9 L1569.7,362.5 L1572.7,363.2 L1575.7,363.8 L1578.7,364.3 L1581.7,364.9 L1584.7,365.5 L1587.7,366.0 L1590.7,366.5 L1593.7,367.0 L1596.7,367.5 L1599.7,367.9 L1602.7,368.4 L1605.7,368.8 L1608.7,369.2 L1611.7,369.6 L1614.7,370.0 L1617.7,370.4 L1620.7,370.8 L1623.7,371.1 L1626.7,371.4 L1629.7,371.8 L1632.7,372.1 L1635.7,372.4 L1638.7,372.7 L1641.7,373.0 L1644.5,373.2" fill="none" stroke="#262626" stroke-width="2.3"/>
<path d="M975.7,554.8 L977.7,554.8 L979.7,554.8 L981.7,554.8 L983.7,554.8 L985.7,554.8 L987.7,554.8 L989.7,554.8 L991.7,554.8 L993.7,554.8 L995.7,554.8 L997.7,554.8 L999.7,554.8 L1001.7,554.8 L1003.7,554.8 L1005.7,554.8 L1007.7,554.8 L1009.7,554.8 L1011.7,554.8 L1013.7,554.8 L1015.7,554.8 L1017.7,554.8 L1019.7,554.8 L1021.7,554.8 L1023.7,554.8 L1025.7,554.8 L1027.7,554.8 L1029.7,554.8 L1031.7,554.8 L1033.7,554.8 L1035.7,554.8 L1037.7,554.8 L1039.7,554.8 L1041.7,554.8 L1043.7,554.8 L1045.7,554.8 L1047.7,554.8 L1049.7,554.8 L1051.7,554.8 L1053.7,554.8 L1055.7,554.8 L1057.7,554.8 L1059.7,554.8 L1061.7,554.8 L1063.7,554.8 L1065.7,554.8 L1067.7,554.8 L1069.7,554.8 L1071.7,554.8 L1073.7,554.8 L1075.7,554.8 L1077.7,554.8 L1079.7,554.8 L1081.7,554.8 L1083.7,554.8 L1085.7,554.8 L1087.7,554.8 L1089.7,554.8 L1091.7,554.8 L1093.7,554.8 L1095.7,554.8 L1097.7,554.8 L1099.7,554.8 L1101.7,554.8 L1103.7,554.8 L1105.7,554.8 L1107.7,554.8 L1109.7,554.8 L1111.7,554.8 L1113.7,554.8 L1115.7,554.8 L1117.7,554.8 L1119.7,554.8 L1121.7,554.8 L1123.7,554.8 L1125.7,554.8 L1127.7,554.8 L1129.7,554.8 L1131.7,554.8 L1133.7,554.8 L1135.7,554.8 L1137.7,554.8 L1139.7,554.8 L1141.7,554.8 L1143.7,554.8 L1145.7,554.8 L1147.7,554.8 L1149.7,554.8 L1151.7,554.8 L1153.7,554.8 L1155.7,554.8 L1157.7,554.8 L1159.7,554.8 L1161.7,554.8 L1163.7,554.8 L1165.7,554.8 L1167.7,554.8 L1169.7,554.9 L1171.7,554.9 L1173.7,554.9 L1175.7,554.9 L1177.7,554.9 L1179.7,554.9 L1181.7,554.9 L1183.7,554.9 L1185.7,554.9 L1187.7,554.9 L1189.7,554.9 L1191.7,554.9 L1193.7,554.9 L1195.7,554.9 L1197.7,554.9 L1199.7,554.9 L1201.7,554.9 L1203.7,554.9 L1205.7,554.9 L1207.7,554.9 L1209.7,554.9 L1211.7,554.9 L1213.7,554.9 L1215.7,554.9 L1217.7,555.0 L1219.7,555.0 L1221.7,555.0 L1223.7,555.0 L1225.7,555.0 L1227.7,555.0 L1229.7,555.0 L1231.7,555.0 L1233.7,555.0 L1235.7,555.0 L1237.7,555.1 L1239.7,555.1 L1241.7,555.1 L1243.7,555.1 L1245.7,555.1 L1247.7,555.1 L1249.7,555.1 L1251.7,555.1 L1253.7,555.2 L1255.7,555.2 L1257.7,555.2 L1259.7,555.2 L1261.7,555.2 L1263.7,555.2 L1265.7,555.2 L1267.7,555.3 L1269.7,555.3 L1271.7,555.3 L1273.7,555.3 L1275.7,555.3 L1277.7,555.3 L1279.7,555.3 L1281.7,555.4 L1283.7,555.4 L1285.7,555.4 L1287.7,555.4 L1289.7,555.5 L1291.7,555.5 L1293.7,555.5 L1295.7,555.5 L1297.7,555.6 L1299.7,555.6 L1301.7,555.6 L1303.7,555.7 L1305.7,555.7 L1307.7,555.8 L1309.7,555.9 L1311.7,555.9 L1313.7,556.0 L1315.7,556.1 L1317.7,556.2 L1319.7,556.3 L1321.7,556.4 L1323.7,556.5 L1325.7,556.6 L1327.7,556.7 L1329.7,556.9 L1331.7,557.0 L1333.7,557.1 L1335.7,557.3 L1337.7,557.5 L1339.7,557.7 L1341.7,557.9 L1343.7,558.1 L1345.7,558.4 L1347.7,558.7 L1349.7,559.0 L1351.7,559.4 L1353.7,559.7 L1355.7,560.1 L1357.7,560.5 L1359.7,561.0 L1361.7,561.5 L1363.7,562.0 L1365.7,562.6 L1367.7,563.2 L1369.7,563.9 L1371.7,564.6 L1373.7,565.3 L1375.7,566.1 L1377.7,566.9 L1379.7,567.8 L1381.7,568.7 L1383.7,569.8 L1385.7,570.9 L1387.7,572.1 L1389.7,573.4 L1391.7,574.8 L1393.7,576.3 L1395.7,577.8 L1397.7,579.3 L1399.7,580.9 L1401.7,582.6 L1403.7,584.3 L1405.7,586.0 L1407.7,587.9 L1409.7,589.8 L1411.7,591.9 L1413.7,594.0 L1415.7,596.2 L1417.7,598.6 L1419.7,601.0 L1421.7,603.4 L1423.7,606.0 L1425.7,608.6 L1427.7,611.4 L1429.7,614.4 L1431.7,617.4 L1433.7,620.6 L1435.7,623.9 L1437.7,627.3 L1439.7,630.8 L1441.7,634.3 L1443.7,638.0 L1445.7,641.7 L1447.7,645.6 L1449.7,649.7 L1451.7,653.9 L1453.7,658.2 L1455.7,662.7 L1457.7,667.2 L1459.7,671.9 L1461.7,676.7 L1463.7,681.6 L1465.7,686.7 L1467.7,691.9 L1469.7,697.0 L1471.7,702.2 L1473.7,707.3 L1475.7,712.5 L1477.7,717.7 L1479.7,722.9 L1481.7,728.1 L1483.7,733.4 L1485.7,738.7 L1487.7,744.0 L1489.7,749.6 L1491.7,755.1 L1493.7,760.7 L1495.7,766.0 L1497.7,771.1 L1499.7,775.8 L1501.7,780.2 L1503.7,784.2 L1505.7,787.9 L1507.7,791.3 L1509.7,794.6 L1511.7,797.9 L1513.7,801.1 L1515.7,804.4 L1517.7,807.7 L1519.7,810.8 L1521.7,813.7 L1523.7,816.4 L1525.7,819.1 L1527.7,821.6 L1529.7,824.0 L1531.7,826.3 L1533.7,828.4 L1535.7,830.4 L1537.7,832.2 L1539.7,833.9 L1541.7,835.6 L1543.7,837.2 L1545.7,838.7 L1547.7,840.1 L1549.7,841.4 L1551.7,842.6 L1553.7,843.7 L1555.7,844.7 L1557.7,845.6 L1559.7,846.6 L1561.7,847.5 L1563.7,848.3 L1565.7,849.1 L1567.7,849.9 L1569.7,850.6 L1571.7,851.2 L1573.7,851.8 L1575.7,852.3 L1577.7,852.8 L1579.7,853.2 L1581.7,853.6 L1583.7,854.0 L1585.7,854.3 L1587.7,854.6 L1589.7,855.0 L1591.7,855.2 L1593.7,855.5 L1595.7,855.8 L1597.7,856.0 L1599.7,856.3 L1601.7,856.5 L1603.7,856.7 L1605.7,856.9 L1607.7,857.1 L1609.7,857.3 L1611.7,857.5 L1613.7,857.7 L1615.7,857.8 L1617.7,858.0 L1619.7,858.2 L1621.7,858.3 L1623.7,858.5 L1625.7,858.7 L1627.7,858.9 L1629.7,859.1 L1631.7,859.3 L1633.7,859.5 L1635.7,859.7 L1637.7,859.9 L1639.7,860.1 L1641.7,860.3 L1643.7,860.5 L1644.5,860.6" fill="none" stroke="#262626" stroke-width="2.3"/>
<rect x="969.2" y="49.0" width="12" height="12" rx="1.5" fill="#fff" stroke="#777" stroke-width="1.7"/>
<rect x="1100.4" y="80.8" width="12" height="12" rx="1.5" fill="#fff" stroke="#777" stroke-width="1.7"/>
<rect x="1231.7" y="99.7" width="12" height="12" rx="1.5" fill="#fff" stroke="#777" stroke-width="1.7"/>
<rect x="1363.0" y="267.0" width="12" height="12" rx="1.5" fill="#fff" stroke="#777" stroke-width="1.7"/>
<rect x="1494.3" y="304.9" width="12" height="12" rx="1.5" fill="#fff" stroke="#777" stroke-width="1.7"/>
<rect x="1625.5" y="373.6" width="12" height="12" rx="1.5" fill="#fff" stroke="#777" stroke-width="1.7"/>
<rect x="969.7" y="504.7" width="12" height="12" rx="1.5" fill="#fff" stroke="#777" stroke-width="1.7"/>
<rect x="1100.7" y="556.0" width="12" height="12" rx="1.5" fill="#fff" stroke="#777" stroke-width="1.7"/>
<rect x="1232.0" y="588.0" width="12" height="12" rx="1.5" fill="#fff" stroke="#777" stroke-width="1.7"/>
<rect x="1363.0" y="556.4" width="12" height="12" rx="1.5" fill="#fff" stroke="#777" stroke-width="1.7"/>
<rect x="1494.0" y="771.2" width="12" height="12" rx="1.5" fill="#fff" stroke="#777" stroke-width="1.7"/>
<rect x="1625.3" y="852.1" width="12" height="12" rx="1.5" fill="#fff" stroke="#777" stroke-width="1.7"/>
<line x1="179.05" y1="228.3" x2="179.05" y2="143.7" stroke="#000" stroke-width="5.6" stroke-linecap="round"/>
<path d="M170.4,142.2 L187.8,142.2 L180.1,110.9 L178.1,110.9 Z" fill="#000" stroke="#000" stroke-width="3" stroke-linejoin="round"/>
<line x1="377.3" y1="191.89999999999998" x2="377.3" y2="271" stroke="#000" stroke-width="5.6" stroke-linecap="round"/>
<path d="M368.6,272.5 L386.0,272.5 L378.3,303.2 L376.3,303.2 Z" fill="#000" stroke="#000" stroke-width="3" stroke-linejoin="round"/>
<line x1="145.8" y1="694.3" x2="145.8" y2="608.7" stroke="#000" stroke-width="5.6" stroke-linecap="round"/>
<path d="M137.1,607.2 L154.5,607.2 L146.8,577.5 L144.8,577.5 Z" fill="#000" stroke="#000" stroke-width="3" stroke-linejoin="round"/>
<line x1="362.9" y1="699.7" x2="362.9" y2="778.5" stroke="#000" stroke-width="5.6" stroke-linecap="round"/>
<path d="M354.2,780.0 L371.6,780.0 L363.9,810.2 L361.9,810.2 Z" fill="#000" stroke="#000" stroke-width="3" stroke-linejoin="round"/>
<line x1="602.6" y1="101.4" x2="662" y2="101.4" stroke="#262626" stroke-width="2.2"/>
<text x="669.0" y="110.7" font-size="26.6" >0%</text>
<line x1="602.6" y1="134" x2="655" y2="134" stroke="#262626" stroke-width="2.2" stroke-dasharray="7.8 6.8"/>
<text x="669.0" y="143.3" font-size="26.6" >20%</text>
<line x1="602.6" y1="166.3" x2="657.5" y2="166.3" stroke="#262626" stroke-width="2.2" stroke-dasharray="2.8 6.0"/>
<text x="669.0" y="175.6" font-size="26.6" >35%</text>
<line x1="602.6" y1="199.1" x2="654.5" y2="199.1" stroke="#262626" stroke-width="2.2" stroke-dasharray="8 4.3 2.4 3.9"/>
<text x="669.0" y="208.4" font-size="26.6" >40%</text>
<line x1="602.6" y1="231.2" x2="659.5" y2="231.2" stroke="#262626" stroke-width="2.2" stroke-dasharray="6 3.9 2.4 3.7 2.4 4"/>
<text x="669.0" y="240.5" font-size="26.6" >45%</text>
<line x1="605.6" y1="548.1" x2="664.5" y2="548.1" stroke="#262626" stroke-width="2.2"/>
<text x="671.0" y="557.4" font-size="26.6" >0%</text>
<line x1="605.6" y1="580.5" x2="657.5" y2="580.5" stroke="#262626" stroke-width="2.2" stroke-dasharray="7.8 6.8"/>
<text x="671.0" y="589.8" font-size="26.6" >20%</text>
<line x1="605.6" y1="613.3" x2="661.5" y2="613.3" stroke="#262626" stroke-width="2.2" stroke-dasharray="2.8 6.0"/>
<text x="671.0" y="622.6" font-size="26.6" >25%</text>
<line x1="605.6" y1="645.5" x2="657.5" y2="645.5" stroke="#262626" stroke-width="2.2" stroke-dasharray="8 4.3 2.4 3.9"/>
<text x="671.0" y="654.8" font-size="26.6" >30%</text>
<line x1="605.6" y1="677.3" x2="663" y2="677.3" stroke="#262626" stroke-width="2.2" stroke-dasharray="6 3.9 2.4 3.7 2.4 4"/>
<text x="671.0" y="686.6" font-size="26.6" >50%</text>
<text x="581.5" y="54.7" font-size="31.5" textLength="186" lengthAdjust="spacingAndGlyphs" >(A) Methanol</text>
<text x="584.5" y="497.7" font-size="31.5" textLength="122.4" lengthAdjust="spacingAndGlyphs" >(B) ACN</text>
<text x="1437.4" y="63.3" font-size="31.5" textLength="164.5" lengthAdjust="spacingAndGlyphs" >(C) Ethanol</text>
<text x="1431.0" y="515.4" font-size="31.5" textLength="187.3" lengthAdjust="spacingAndGlyphs" >(D) Methanol</text>
<text x="91.0" y="124.7" font-size="24" text-anchor="end" >10</text>
<text x="91.0" y="272.9" font-size="24" text-anchor="end" >0</text>
<text x="91.0" y="421.1" font-size="24" text-anchor="end" >-10</text>
<text x="97.6" y="481.7" font-size="24" text-anchor="end" >20</text>
<text x="97.6" y="601.6" font-size="24" text-anchor="end" >10</text>
<text x="97.6" y="721.5" font-size="24" text-anchor="end" >0</text>
<text x="97.6" y="841.4" font-size="24" text-anchor="end" >-10</text>
<text x="208.7" y="934.0" font-size="24" text-anchor="middle" >200</text>
<text x="403.4" y="934.0" font-size="24" text-anchor="middle" >220</text>
<text x="598.1" y="934.0" font-size="24" text-anchor="middle" >240</text>
<text x="792.7" y="934.0" font-size="24" text-anchor="middle" >260</text>
<text x="942.3" y="37.6" font-size="24" text-anchor="end" >-10</text>
<text x="942.3" y="478.9" font-size="24" text-anchor="end" >-10</text>
<text x="942.3" y="168.4" font-size="24" text-anchor="end" >-15</text>
<text x="942.3" y="590.1" font-size="24" text-anchor="end" >-15</text>
<text x="942.3" y="299.2" font-size="24" text-anchor="end" >-20</text>
<text x="942.3" y="701.3" font-size="24" text-anchor="end" >-20</text>
<text x="942.3" y="430.0" font-size="24" text-anchor="end" >-25</text>
<text x="942.3" y="812.5" font-size="24" text-anchor="end" >-25</text>
<text x="975.9" y="934.0" font-size="24" text-anchor="middle" >0</text>
<text x="1107.1" y="934.0" font-size="24" text-anchor="middle" >10</text>
<text x="1238.3" y="934.0" font-size="24" text-anchor="middle" >20</text>
<text x="1369.6" y="934.0" font-size="24" text-anchor="middle" >30</text>
<text x="1500.8" y="934.0" font-size="24" text-anchor="middle" >40</text>
<text x="1632.0" y="934.0" font-size="24" text-anchor="middle" >50</text>
<text x="445.9" y="975.6" font-size="29" text-anchor="middle" textLength="219.5" lengthAdjust="spacingAndGlyphs" >Wavelength (nm)</text>
<text x="1296.8" y="975.5" font-size="32" text-anchor="middle" textLength="145.5" lengthAdjust="spacingAndGlyphs" >% Alcohol</text>
<text transform="translate(43,610.5) rotate(-90)" font-size="28.4" letter-spacing="0.45" font-family="'Liberation Sans', Arial, sans-serif"><tspan font-family="'Liberation Serif', serif" font-size="29" stroke-width="0">&#952;</tspan> (10<tspan dy="-19">3</tspan><tspan dy="19">.deg.cm</tspan><tspan dy="-19">2</tspan><tspan dy="19">.dmol</tspan><tspan dy="-19">-1</tspan><tspan dy="19">)</tspan></text>
<text transform="translate(879,629) rotate(-90)" font-size="26.2" letter-spacing="0.05" font-family="'Liberation Sans', Arial, sans-serif"><tspan font-family="'Liberation Serif', serif" font-size="26.5" stroke-width="0">&#952;</tspan><tspan dy="10.3">218 nm</tspan><tspan dy="-10.3">(10</tspan><tspan dy="-15.5">3</tspan><tspan dy="15.5">. deg. cm</tspan><tspan dy="-15.5">2</tspan><tspan dy="15.5">. dmol</tspan><tspan dy="-15.5">-1</tspan><tspan dy="15.5">)</tspan></text></g></svg>
</body></html>
